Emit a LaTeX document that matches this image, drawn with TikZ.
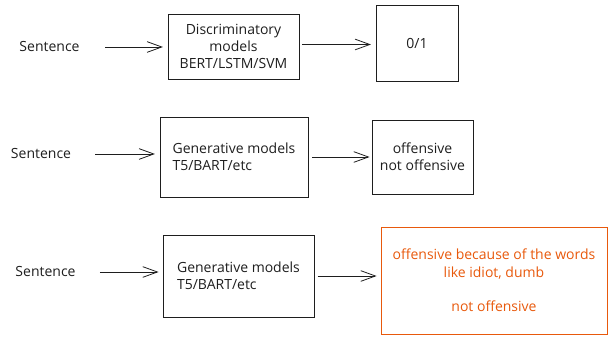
\documentclass[tikz,border=0pt]{standalone}
\usepackage{fontspec}
\setmainfont{Open Sans}
\usetikzlibrary{arrows.meta}
\definecolor{ink}{HTML}{1E1E1E}
\definecolor{exorange}{HTML}{E8590C}
\begin{document}
\begin{tikzpicture}[x=0.75pt,y=-0.75pt,
  every node/.style={font=\fontsize{10.5}{12.5}\selectfont, text=ink},
  box/.style={draw=ink, line width=0.6pt, inner sep=0pt},
  flow/.style={draw=ink, line width=0.6pt, -{Straight Barb[length=11pt,width=8pt,line width=0.6pt]}},
  label/.style={inner sep=0pt}]
\useasboundingbox (0,0) rectangle (608,338);
% row 1
\node[label] (s1) at (49.5,47) {Sentence};
\node[box, minimum width=98.25pt, minimum height=48.75pt, align=center] (b1) at (233.5,46.5) {Discriminatory\\models\\BERT/LSTM/SVM};
\node[box, minimum width=61.5pt, minimum height=57pt] (o1) at (417,43) {0/1};
% row 2
\node[label] (s2) at (41,154) {Sentence};
\node[box, minimum width=111pt, minimum height=60pt, align=left] (b2) at (234,157) {Generative models\\T5/BART/etc};
\node[box, minimum width=75.75pt, minimum height=55.5pt, align=center] (o2) at (422.5,157) {offensive\\not offensive};
% row 3
\node[label] (s3) at (45.5,272) {Sentence};
\node[box, minimum width=113.25pt, minimum height=61.5pt, align=left] (b3) at (238.5,276) {Generative models\\T5/BART/etc};
\node[box, draw=exorange, text=exorange, minimum width=169.5pt, minimum height=80.25pt, align=center,
  font=\fontsize{10.5}{13.5}\selectfont] (o3) at (494,280.5) {offensive because of the words\\like idiot, dumb\\[12pt]not offensive};
% arrows
\draw[flow, shorten <=19pt, shorten >=3.5pt] (s1.east) -- (s1.east -| b1.west);
\draw[flow, shorten <=2pt, shorten >=3.5pt] ([yshift=1.5pt]b1.east) -- ([yshift=1.5pt]b1.east -| o1.west);
\draw[flow, shorten <=18pt, shorten >=3.5pt] (s2.east) -- (s2.east -| b2.west);
\draw[flow, shorten <=3pt, shorten >=1.5pt] (b2.east) -- (b2.east -| o2.west);
\draw[flow, shorten <=18pt, shorten >=3pt] (s3.east) -- (s3.east -| b3.west);
\draw[flow, shorten <=2.5pt, shorten >=3pt] (b3.east) -- (b3.east -| o3.west);
\end{tikzpicture}
\end{document}
